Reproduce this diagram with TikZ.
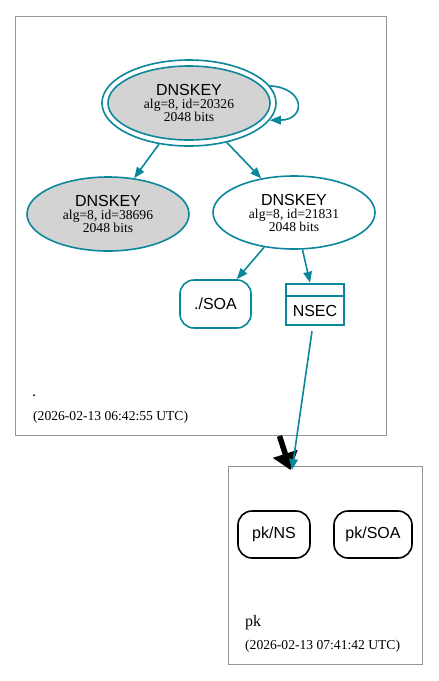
\documentclass[tikz,border=0pt]{standalone}
\usepackage{fontspec}
\setmainfont{Liberation Serif}
\setsansfont{Liberation Sans}
\usetikzlibrary{shapes.geometric,arrows.meta,calc}
\definecolor{sec}{HTML}{0A879A}
\definecolor{keyfill}{HTML}{D3D3D3}
\definecolor{clus}{HTML}{959595}
\tikzset{
  cluster/.style={draw=clus, line width=0.9pt, inner sep=0pt},
  keyell/.style={ellipse, draw=sec, line width=1.6pt, inner sep=0pt, align=center,
    font=\rmfamily\fontsize{13.6}{13}\selectfont},
  rrbox/.style={draw=sec, line width=1.6pt, rounded corners=14pt, inner sep=0pt,
    font=\sffamily\fontsize{16}{16}\selectfont},
  blkbox/.style={rrbox, draw=black},
  nsecbox/.style={draw=sec, line width=2.4pt, inner sep=0pt, minimum width=58pt, minimum height=41pt},
  edge/.style={draw=sec, line width=1.6pt, -{Triangle[length=11pt,width=8.5pt]}},
  deleg/.style={draw=black, line width=5.5pt, -{Triangle[length=17pt,width=25pt]}},
  lbl/.style={anchor=base west, inner sep=0pt, font=\rmfamily\fontsize{13.6}{13}\selectfont},
}
\newcommand{\keytxt}[1]{{\sffamily\fontsize{16}{16}\selectfont DNSKEY}\\alg=8, id=#1\\2048 bits}
\begin{document}
\begin{tikzpicture}[x=1pt,y=-1pt]
\useasboundingbox (0,0) rectangle (439,681);
% clusters
\node[cluster, minimum width=371pt, minimum height=419pt] (c1) at (200.5,225.5) {};
\node[cluster, minimum width=194pt, minimum height=198pt] (c2) at (325,565) {};
% keys
\node[keyell, minimum width=174pt, minimum height=86pt] (k1) at (189,103) {};
\node[keyell, fill=keyfill, minimum width=162pt, minimum height=74pt] (k1i) at (189,103) {\keytxt{20326}};
\node[keyell, fill=keyfill, minimum width=162pt, minimum height=74pt] (k2) at (108,214) {\keytxt{38696}};
\node[keyell, minimum width=162pt, minimum height=73pt] (k3) at (294,212.5) {\keytxt{21831}};
% records
\node[rrbox, minimum width=71pt, minimum height=48pt] (soa) at (215.5,304) {./SOA};
\node[nsecbox] (nsec) at (315,304.5) {};
\node[inner sep=0pt, font=\sffamily\fontsize{16}{16}\selectfont] (nsect) at (315,310.5) {NSEC};
\draw[draw=sec, line width=2.4pt] (nsec.west |- 0,296) -- (nsec.east |- 0,296);
% pk zone
\node[blkbox, minimum width=72pt, minimum height=47pt] (pkns) at (274,534.5) {pk/NS};
\node[blkbox, minimum width=78pt, minimum height=47pt] (pksoa) at (373,534.5) {pk/SOA};
% labels
\node[lbl, font=\rmfamily\fontsize{16}{16}\selectfont] (z1) at (32,396) {.};
\node[lbl] (t1) at (33,420) {(2026-02-13 06:42:55 UTC)};
\node[lbl, font=\rmfamily\fontsize{16}{16}\selectfont] (z2) at (245,626) {pk};
\node[lbl] (t2) at (245,649) {(2026-02-13 07:41:42 UTC)};
% edges
\draw[edge] (k1.12) .. controls (306,88) and (306,120) .. (k1.-12);
\draw[edge] (k1) -- (k2);
\draw[edge] (k1) -- (k3);
\draw[edge] (k3) -- (soa);
\draw[edge] (k3) -- (nsec);
\coordinate (dstart) at (279.5,436);
\coordinate (dend) at (290.5,470);
\draw[deleg] (dstart) -- (dend);
\coordinate (nstart) at ($(nsec.south)+(-3,5)$);
\coordinate (nend) at (292,470);
\draw[edge] (nstart) -- (nend);
\end{tikzpicture}
\end{document}
